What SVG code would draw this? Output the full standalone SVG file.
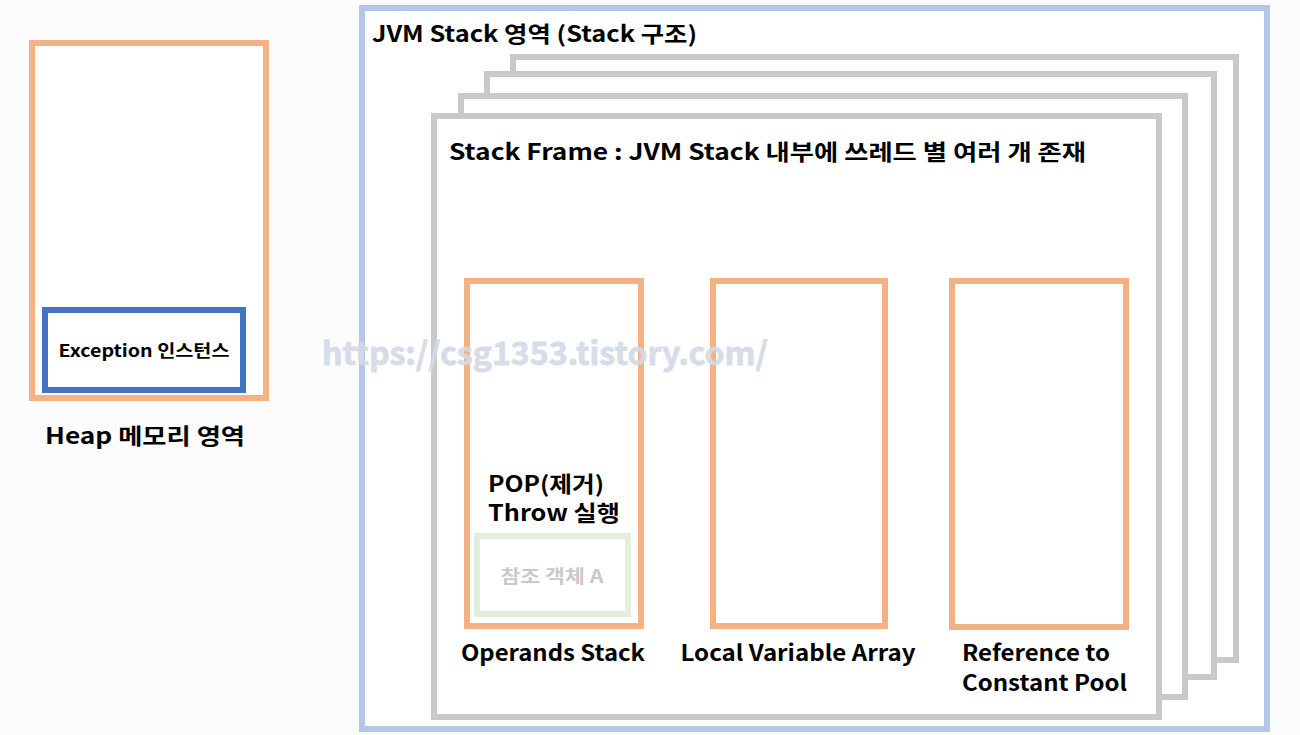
<svg xmlns="http://www.w3.org/2000/svg" width="1300" height="735" viewBox="0 0 1300 735">
<style>
  text { font-family: "Noto Sans CJK KR", "Noto Sans", sans-serif; font-weight: bold; fill: #000; }
  .lbl { font-size: 22px; }
  .small { font-size: 17px; }
  .orange { fill: #ffffff; stroke: #f4b183; stroke-width: 6; }
  .frame { fill: #ffffff; stroke: #c9c9c9; stroke-width: 6; }
</style>
<rect x="0" y="0" width="1300" height="735" fill="#fcfcfc"/>

<g id="heap">
  <rect class="orange" x="32" y="43" width="234" height="355"/>
  <text class="lbl" x="145" y="444" text-anchor="middle" textLength="200" lengthAdjust="spacingAndGlyphs">Heap 메모리 영역</text>
</g>
<g id="exception-instance">
  <rect x="45" y="310" width="198" height="80" fill="#ffffff" stroke="#4472c4" stroke-width="6"/>
  <text class="small" x="144" y="357" text-anchor="middle" textLength="171" lengthAdjust="spacingAndGlyphs">Exception 인스턴스</text>
</g>

<g id="jvm-stack">
  <rect x="362" y="8" width="905" height="721" fill="#ffffff" stroke="#b4c7e7" stroke-width="6"/>
  <text class="lbl" x="372" y="42" textLength="325" lengthAdjust="spacingAndGlyphs">JVM Stack 영역 (Stack 구조)</text>
</g>

<g id="frame-4"><rect class="frame" x="513" y="57" width="723" height="603"/></g>
<g id="frame-3"><rect class="frame" x="487" y="74" width="727" height="603"/></g>
<g id="frame-2"><rect class="frame" x="461" y="96" width="724" height="601"/></g>
<g id="frame-1">
  <rect class="frame" x="434" y="116" width="725" height="601"/>
  <text class="lbl" x="449" y="160" textLength="637" lengthAdjust="spacingAndGlyphs">Stack Frame : JVM Stack 내부에 쓰레드 별 여러 개 존재</text>
</g>

<g id="operands-stack">
  <rect class="orange" x="467" y="281" width="174" height="345"/>
  <text class="lbl" x="488" y="492" textLength="116" lengthAdjust="spacingAndGlyphs">POP(제거)</text>
  <text class="lbl" x="488" y="521" textLength="132" lengthAdjust="spacingAndGlyphs">Throw 실행</text>
  <text class="lbl" x="553" y="661" text-anchor="middle" textLength="184" lengthAdjust="spacingAndGlyphs">Operands Stack</text>
</g>
<g id="ref-object-a">
  <rect x="477" y="536" width="151" height="78" fill="#ffffff" stroke="#e2efda" stroke-width="6"/>
  <text x="552" y="583" text-anchor="middle" style="font-size:18px; fill:#c9c9c9" textLength="103" lengthAdjust="spacingAndGlyphs">참조 객체 A</text>
</g>
<g id="local-variable-array">
  <rect class="orange" x="713" y="281" width="172" height="345"/>
  <text class="lbl" x="798" y="661" text-anchor="middle" textLength="235" lengthAdjust="spacingAndGlyphs">Local Variable Array</text>
</g>
<g id="constant-pool-ref">
  <rect class="orange" x="952" y="281" width="174" height="346"/>
  <text class="lbl" x="962" y="661" textLength="148" lengthAdjust="spacingAndGlyphs">Reference to</text>
  <text class="lbl" x="962" y="691" textLength="165" lengthAdjust="spacingAndGlyphs">Constant Pool</text>
</g>

<g id="connectors"></g>

<text x="322" y="365" style="font-size:32px; fill:#d3dae6; stroke:#d3dae6; stroke-width:0.8; opacity:0.9" textLength="446" lengthAdjust="spacingAndGlyphs">https://csg1353.tistory.com/</text>
</svg>
